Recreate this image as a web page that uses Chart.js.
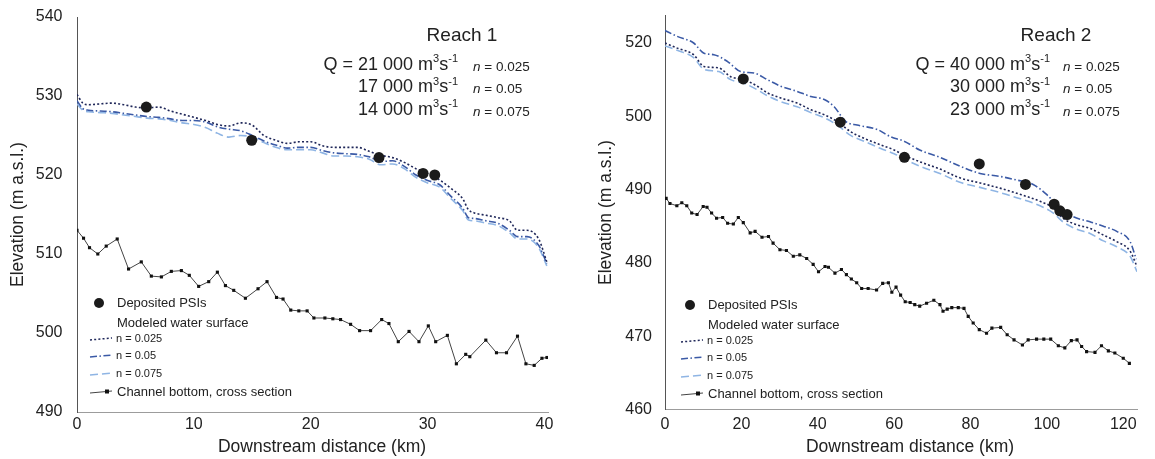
<!DOCTYPE html>
<html>
<head>
<meta charset="utf-8">
<title>Reach 1 / Reach 2 water surface profiles</title>
<script src="https://cdn.jsdelivr.net/npm/chart.js@4.4.1/dist/chart.umd.min.js"></script>
<style>
  html, body { margin: 0; padding: 0; background: #ffffff; }
  #wrap { position: relative; width: 1155px; height: 459px; overflow: hidden; }
  .panel { position: absolute; top: 0; height: 459px; }
  #p1 { left: 0; width: 588px; }
  #p2 { left: 588px; width: 567px; }
</style>
</head>
<body>
<div id="wrap">
  <div class="panel" id="p1"><canvas id="reach1"></canvas></div>
  <div class="panel" id="p2"><canvas id="reach2"></canvas></div>
</div>
<script>
// ---------- Reach 1 data (km, m a.s.l.) ----------
const r1WaterKm = [0, 0.5, 1, 2, 3, 4, 5, 6, 7, 8, 9, 10, 11, 12, 13, 14, 15, 16, 17, 18, 19, 20, 21, 22, 23, 24, 25, 26, 27, 28, 29, 30, 31, 32, 33, 33.5, 34, 35, 36, 37, 37.7, 38.5, 39.5, 40.2];
const r1N025 = [530.2, 529.1, 528.9, 529.0, 529.1, 528.9, 528.6, 528.5, 528.6, 528.1, 527.7, 527.3, 526.9, 526.4, 526.2, 526.6, 526.3, 525.0, 524.4, 524.0, 524.2, 524.2, 523.7, 523.5, 523.5, 523.5, 523.0, 522.5, 522.2, 521.6, 520.8, 520.2, 519.4, 518.3, 517.0, 515.6, 515.2, 514.9, 514.6, 514.2, 513.0, 513.0, 511.9, 509.0];
const r1N05 = [529.4, 528.4, 528.2, 528.1, 528.0, 527.8, 527.6, 527.4, 527.3, 527.1, 526.9, 526.9, 526.7, 526.1, 525.8, 525.6, 525.0, 524.3, 523.8, 523.4, 523.5, 523.5, 523.1, 522.8, 522.7, 522.6, 522.3, 521.7, 521.8, 521.1, 520.0, 519.3, 518.8, 517.3, 515.8, 514.6, 514.5, 514.2, 513.9, 513.0, 512.2, 512.2, 511.1, 508.8];
const r1N075 = [529.0, 528.2, 528.0, 527.9, 527.8, 527.6, 527.4, 527.2, 527.1, 526.9, 526.6, 526.4, 526.0, 525.3, 524.8, 525.0, 524.8, 524.1, 523.5, 523.2, 523.2, 523.2, 522.8, 522.4, 522.4, 522.3, 522.0, 521.3, 521.4, 520.8, 519.7, 519.0, 518.5, 517.0, 515.5, 514.3, 514.2, 513.9, 513.6, 512.7, 511.9, 511.9, 510.8, 508.5];
const r1BedKm = [0, 0.56, 1.07, 1.78, 2.50, 3.44, 4.41, 5.50, 6.36, 7.22, 8.07, 8.93, 9.61, 10.41, 11.27, 12.01, 12.70, 13.41, 14.41, 15.49, 16.26, 17.07, 17.63, 18.29, 18.98, 19.69, 20.27, 21.21, 21.89, 22.55, 23.41, 24.18, 25.12, 26.07, 26.69, 27.49, 28.41, 29.26, 30.06, 30.69, 31.69, 32.46, 33.26, 33.61, 34.98, 35.89, 36.75, 37.69, 38.41, 39.12, 39.78, 40.21];
const r1Bed = [513.0, 512.0, 510.8, 510.0, 511.0, 511.9, 508.1, 509.0, 507.2, 507.1, 507.8, 507.9, 507.3, 505.9, 506.5, 507.7, 506.0, 505.4, 504.4, 505.6, 506.5, 504.5, 504.3, 502.9, 502.8, 502.8, 501.9, 501.9, 501.8, 501.7, 501.1, 500.3, 500.3, 501.7, 501.2, 498.9, 500.2, 498.9, 500.9, 498.9, 499.7, 496.1, 497.3, 497.0, 499.1, 497.5, 497.5, 499.6, 496.1, 495.9, 496.8, 496.9];
const r1PsiKm = [5.93, 14.95, 25.84, 29.61, 30.61];
const r1Psi = [528.6, 524.4, 522.2, 520.2, 520.0];
const r1XTicks = [0, 10, 20, 30, 40];
const r1YTicks = [490, 500, 510, 520, 530, 540];
const r1YLabels = ['490', '500', '510', '520', '530', '540'];
const r1Q = ['21 000', '17 000', '14 000'];

// ---------- Reach 2 data ----------
const r2N025Km = [0, 3.2, 7.5, 10.2, 14.1, 17.2, 20.7, 24.2, 26.8, 30.3, 34.6, 38.2, 41.7, 45.1, 48.6, 52.1, 56.5, 60.0, 62.6, 66.7, 72.0, 77.2, 82.5, 87.7, 92.1, 98.2, 101.7, 104.2, 107.8, 111.3, 114.8, 118.3, 121.8, 123.6];
const r2N025 = [510.0, 509.3, 508.4, 506.8, 506.6, 505.4, 505.0, 504.1, 503.2, 502.5, 501.8, 500.9, 500.2, 499.3, 497.9, 497.0, 496.1, 495.4, 494.7, 493.8, 492.8, 491.6, 490.9, 490.2, 489.5, 488.4, 487.5, 486.1, 485.2, 484.7, 483.8, 482.9, 481.6, 479.5];
const r2N075 = [509.6, 509.0, 508.0, 506.4, 506.1, 505.0, 504.5, 503.6, 502.8, 502.0, 501.3, 500.5, 499.8, 498.8, 497.4, 496.6, 495.6, 494.9, 494.2, 493.2, 492.2, 491.0, 490.3, 489.6, 488.9, 487.8, 486.8, 485.6, 484.6, 484.0, 483.0, 482.2, 480.9, 478.8];
const r2N05Km = [0, 3.2, 7.5, 10.2, 12.8, 16.3, 19.8, 23.3, 26.8, 30.3, 34.6, 38.2, 41.7, 44.3, 47.3, 50.3, 55.6, 59.1, 62.6, 66.7, 72.0, 77.2, 82.5, 87.7, 92.1, 96.4, 100.0, 103.4, 106.9, 111.3, 114.8, 118.3, 121.8, 123.4];
const r2N05 = [511.7, 510.9, 510.0, 508.6, 508.4, 507.5, 506.1, 505.9, 505.0, 504.1, 503.4, 502.7, 502.3, 501.3, 499.3, 498.8, 498.2, 497.2, 496.6, 495.4, 494.4, 493.2, 492.2, 491.8, 491.3, 490.7, 489.3, 487.5, 486.3, 485.6, 485.0, 484.3, 482.9, 480.5];
const r2BedKm = [0.3, 1.3, 3.1, 4.4, 5.7, 7.0, 8.4, 10.0, 11.0, 12.2, 13.5, 15.1, 16.4, 17.9, 19.2, 20.5, 22.3, 23.6, 25.4, 27.1, 28.3, 30.1, 31.8, 33.6, 35.3, 37.1, 38.8, 40.2, 41.9, 42.8, 44.5, 46.2, 47.5, 48.8, 50.2, 51.5, 53.2, 55.4, 57.0, 58.5, 59.4, 60.5, 61.7, 62.9, 64.2, 65.4, 66.7, 68.5, 70.4, 72.0, 72.8, 73.9, 75.1, 76.8, 78.3, 79.4, 80.7, 82.3, 84.2, 85.6, 87.9, 89.6, 91.4, 93.6, 95.1, 97.3, 99.2, 101.0, 103.0, 104.7, 106.4, 107.9, 109.1, 110.4, 112.6, 114.3, 116.1, 117.8, 120.0, 121.6];
const r2Bed = [488.8, 488.1, 487.8, 488.2, 487.8, 486.8, 486.6, 487.7, 487.6, 486.8, 486.1, 486.2, 485.4, 485.3, 486.2, 485.5, 484.1, 484.3, 483.5, 483.6, 482.7, 481.8, 481.7, 480.9, 481.1, 480.6, 479.8, 478.8, 479.5, 479.4, 478.6, 479.1, 478.4, 477.8, 477.3, 476.5, 476.5, 476.3, 477.2, 477.3, 476.0, 476.7, 475.6, 474.7, 474.6, 474.3, 474.1, 474.5, 474.9, 474.3, 473.4, 473.7, 473.9, 473.9, 473.8, 472.7, 471.8, 470.9, 470.4, 471.1, 471.2, 470.2, 469.5, 468.8, 469.5, 469.6, 469.6, 469.6, 468.7, 468.4, 469.4, 469.5, 468.6, 467.9, 467.8, 468.7, 468.0, 467.7, 467.0, 466.3];
const r2PsiKm = [20.5, 45.9, 62.7, 82.3, 94.4, 101.9, 103.4, 105.3];
const r2Psi = [505.1, 499.2, 494.4, 493.5, 490.7, 488.0, 487.1, 486.6];
const r2XTicks = [0, 20, 40, 60, 80, 100, 120];
const r2YTicks = [460, 470, 480, 490, 500, 510];
const r2YLabels = ['460', '470', '480', '490', '500', '520'];
const r2Q = ['40 000', '30 000', '23 000'];

// ---------- shared text ----------
const nValues = ['0.025', '0.05', '0.075'];
const legendTexts = ['Deposited PSIs', 'Modeled water surface', 'n = 0.025', 'n = 0.05', 'n = 0.075', 'Channel bottom, cross section'];
const xTitle = 'Downstream distance (km)';
const yTitle = 'Elevation (m a.s.l.)';

const FONT = '"Liberation Sans", Arial, Helvetica, sans-serif';
const INK = '#222222';
const C025 = '#1f2759';
const C05 = '#3b5aa6';
const C075 = '#8fb5e4';
const DASH025 = [2, 2.2];
const DASH05 = [7, 2.5, 1.5, 2.5];
const DASH075 = [8, 4];

function pts(xs, ys) {
    return xs.map((x, i) => ({ x: x, y: ys[i] }));
}

// text with m3 s-1 superscripts, right aligned at xRight
function drawUnit(ctx, lead, xRight, y) {
    const pieces = [
        { t: lead + ' m', f: '18px ' + FONT, dy: 0 },
        { t: '3', f: '11px ' + FONT, dy: -6 },
        { t: 's', f: '18px ' + FONT, dy: 0 },
        { t: '-1', f: '11px ' + FONT, dy: -6 }
    ];
    let total = 0;
    pieces.forEach(p => { ctx.font = p.f; p.w = ctx.measureText(p.t).width; total += p.w; });
    let x = xRight - total;
    ctx.textAlign = 'left';
    pieces.forEach(p => { ctx.font = p.f; ctx.fillText(p.t, x, y + p.dy); x += p.w; });
}

const notesPlugin = {
    id: 'notes',
    afterDraw(chart, args, o) {
        const ctx = chart.ctx;
        ctx.save();
        ctx.fillStyle = INK;
        ctx.textBaseline = 'middle';

        // panel title
        ctx.font = '19px ' + FONT;
        ctx.textAlign = 'center';
        ctx.fillText(o.title, o.titleX, 36);

        // discharges and roughness
        const rows = [65, 87.5, 110];
        o.q.forEach((q, i) => {
            drawUnit(ctx, (i === 0 ? 'Q = ' : '') + q, o.qRight, rows[i]);
            ctx.textAlign = 'left';
            ctx.font = 'italic 13.5px ' + FONT;
            ctx.fillText('n', o.nX, rows[i] + 2);
            const w = ctx.measureText('n').width;
            ctx.font = '13.5px ' + FONT;
            ctx.fillText(' = ' + nValues[i], o.nX + w, rows[i] + 2);
        });

        // legend
        const lx = o.legX, ly = o.legY;
        ctx.fillStyle = '#1b1b1b';
        ctx.beginPath();
        ctx.arc(lx + 9, ly, 5, 0, Math.PI * 2);
        ctx.fill();
        ctx.fillStyle = INK;
        ctx.textAlign = 'left';
        ctx.font = '13px ' + FONT;
        ctx.fillText(legendTexts[0], lx + 27, ly);
        ctx.fillText(legendTexts[1], lx + 27, ly + 20);
        const lineRows = [
            { y: ly + 36, c: C025, d: DASH025, t: legendTexts[2] },
            { y: ly + 53, c: C05, d: DASH05, t: legendTexts[3] },
            { y: ly + 71, c: C075, d: DASH075, t: legendTexts[4] }
        ];
        lineRows.forEach(r => {
            ctx.strokeStyle = r.c;
            ctx.lineWidth = 1.5;
            ctx.setLineDash(r.d);
            ctx.beginPath();
            ctx.moveTo(lx, r.y + 1);
            ctx.lineTo(lx + 22, r.y - 1);
            ctx.stroke();
            ctx.setLineDash([]);
            ctx.font = '11px ' + FONT;
            ctx.fillText(r.t, lx + 26, r.y);
        });
        const by = ly + 89;
        ctx.strokeStyle = '#444';
        ctx.lineWidth = 1;
        ctx.beginPath();
        ctx.moveTo(lx, by + 1);
        ctx.lineTo(lx + 22, by - 1);
        ctx.stroke();
        ctx.fillStyle = '#111';
        ctx.fillRect(lx + 15, by - 2.5, 4, 4);
        ctx.fillStyle = INK;
        ctx.font = '13px ' + FONT;
        ctx.fillText(legendTexts[5], lx + 27, by);

        // x axis title
        ctx.font = '17.5px ' + FONT;
        ctx.textAlign = 'center';
        ctx.fillText(xTitle, o.xTitleX, 447);
        ctx.restore();
    }
};

function makeReach(canvasId, d) {
    const waterBase = { showLine: true, pointRadius: 0, borderWidth: 1.6, cubicInterpolationMode: 'monotone', fill: false };
    new Chart(document.getElementById(canvasId), {
        type: 'scatter',
        data: {
            datasets: [
                { label: 'Deposited PSIs', data: pts(d.psiKm, d.psi), showLine: false, pointRadius: 5.5, pointBackgroundColor: '#1b1b1b', pointBorderWidth: 0 },
                Object.assign({ label: 'n = 0.025', data: pts(d.km025, d.n025), borderColor: C025, borderDash: DASH025 }, waterBase),
                Object.assign({ label: 'n = 0.05', data: pts(d.km05, d.n05), borderColor: C05, borderDash: DASH05 }, waterBase),
                Object.assign({ label: 'n = 0.075', data: pts(d.km075, d.n075), borderColor: C075, borderDash: DASH075 }, waterBase),
                { label: 'Channel bottom, cross section', data: pts(d.bedKm, d.bed), showLine: true, borderColor: '#444444', borderWidth: 1, tension: 0,
                  pointStyle: 'rect', pointRadius: 2.2, pointBackgroundColor: '#111111', pointBorderWidth: 0 }
            ]
        },
        options: {
            responsive: true,
            maintainAspectRatio: false,
            animation: false,
            events: [],
            layout: { padding: { top: d.padTop, right: d.padRight, left: 0, bottom: 0 } },
            plugins: {
                legend: { display: false },
                tooltip: { enabled: false },
                notes: d.notes
            },
            scales: {
                x: {
                    type: 'linear', min: d.xMin, max: d.xMax,
                    afterBuildTicks: s => { s.ticks = d.xTicks.map(v => ({ value: v })); },
                    afterFit: s => { s.height = d.xH; s.paddingLeft = 0; s.paddingRight = 0; },
                    grid: { display: false, drawTicks: false },
                    border: { display: true, color: '#9c9c9c', width: 1 },
                    ticks: { padding: d.xPad, color: INK, font: { family: FONT, size: 16 } }
                },
                y: {
                    type: 'linear', min: d.yMin, max: d.yMax,
                    afterBuildTicks: s => { s.ticks = d.yTicks.map(v => ({ value: v })); },
                    afterFit: s => { s.width = d.yW; s.paddingTop = 0; s.paddingBottom = 0; },
                    grid: { display: false, drawTicks: false },
                    border: { display: true, color: '#555555', width: 1 },
                    ticks: { padding: d.yPad, color: INK, font: { family: FONT, size: 16 },
                             callback: v => d.yLabels[d.yTicks.indexOf(v)] },
                    title: { display: true, text: yTitle, color: INK, font: { family: FONT, size: 17.5 }, padding: { top: 8, bottom: 0 } }
                }
            }
        },
        plugins: [notesPlugin]
    });
}

makeReach('reach1', {
    psiKm: r1PsiKm, psi: r1Psi,
    km025: r1WaterKm, n025: r1N025, km05: r1WaterKm, n05: r1N05, km075: r1WaterKm, n075: r1N075,
    bedKm: r1BedKm, bed: r1Bed,
    xMin: 0, xMax: 40.3, xTicks: r1XTicks,
    yMin: 490, yMax: 540, yTicks: r1YTicks, yLabels: r1YLabels,
    padTop: 17, padRight: 40, xH: 47, yW: 77, yPad: 14.5, xPad: 3,
    notes: { title: 'Reach 1', titleX: 462, q: r1Q, qRight: 458, nX: 473, legX: 90, legY: 303, xTitleX: 322 }
});

makeReach('reach2', {
    psiKm: r2PsiKm, psi: r2Psi,
    km025: r2N025Km, n025: r2N025, km05: r2N05Km, n05: r2N05, km075: r2N025Km, n075: r2N075,
    bedKm: r2BedKm, bed: r2Bed,
    xMin: 0, xMax: 123.6, xTicks: r2XTicks,
    yMin: 460, yMax: 513.75, yTicks: r2YTicks, yLabels: r2YLabels,
    padTop: 15.5, padRight: 18, xH: 49.5, yW: 77, yPad: 13, xPad: 5.5,
    notes: { title: 'Reach 2', titleX: 468, q: r2Q, qRight: 462, nX: 475, legX: 93, legY: 305, xTitleX: 322 }
});
</script>
</body>
</html>
